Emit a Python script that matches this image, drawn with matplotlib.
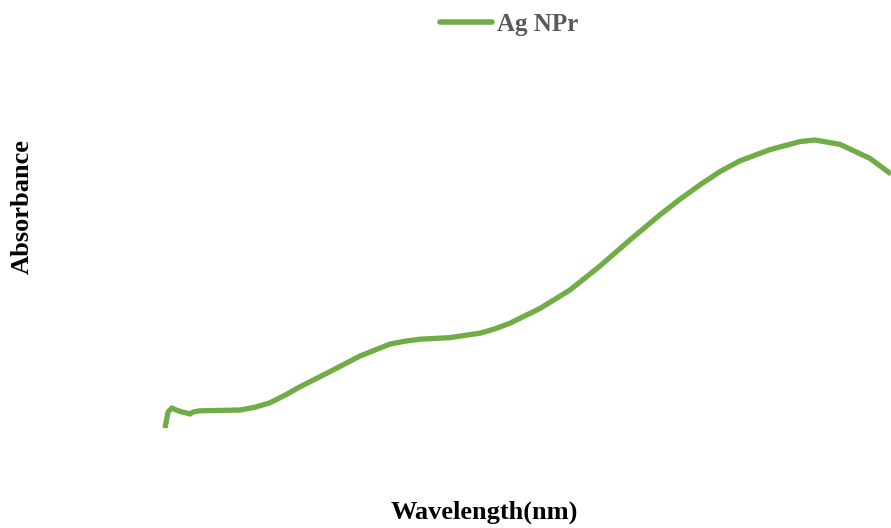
import matplotlib
matplotlib.use("Agg")
import matplotlib.pyplot as plt

# UV-Vis absorbance spectrum of silver nanoprisms
wavelength = [300.0, 302.1, 304.8, 307.6, 311.7, 314.5, 317.2, 319.3, 324.1, 337.9,
              351.7, 362.0, 372.3, 382.6, 393.0, 413.6, 434.3, 455.0, 465.3, 475.6,
              496.3, 516.9, 527.3, 537.6, 558.3, 578.9, 599.6, 620.2, 640.9, 654.7,
              668.5, 682.2, 696.0, 716.7, 737.3, 747.7, 764.9, 785.5, 800.0]
absorbance = [0.130, 0.170, 0.180, 0.175, 0.170, 0.168, 0.165, 0.170, 0.173, 0.174,
              0.175, 0.182, 0.193, 0.212, 0.233, 0.271, 0.310, 0.340, 0.347, 0.352,
              0.356, 0.367, 0.378, 0.392, 0.429, 0.475, 0.535, 0.600, 0.663, 0.702,
              0.738, 0.771, 0.798, 0.826, 0.846, 0.850, 0.839, 0.804, 0.765]

W, H = 891, 528
fig = plt.figure(figsize=(W / 100, H / 100), dpi=100)
ax = fig.add_axes([165 / W, 48 / H, 1 - 165 / W, 400 / H])
ax.plot(wavelength, absorbance, color="#70AD47", lw=3.8,
        solid_capstyle="butt", solid_joinstyle="round", label="Ag NPr", clip_on=False)
ax.set_xlim(300, 800)
ax.set_ylim(0, 1)
ax.axis("off")

serif = ["Liberation Serif", "DejaVu Serif"]
leg = fig.legend(loc="center", bbox_to_anchor=(509 / W, 1 - 24 / H), frameon=False,
                 handlelength=2.1, handletextpad=0.18,
                 prop={"family": serif, "weight": "bold", "size": 18})
for t in leg.get_texts():
    t.set_color("#595959")
for h in leg.get_lines():
    h.set_solid_capstyle("round")
    h.set_linewidth(4.0)

fig.text(484 / W, 1 - 512 / H, "Wavelength(nm)", ha="center", va="center",
         family=serif, weight="bold", size=19)
fig.text(22 / W, 1 - 207 / H, "Absorbance", ha="center", va="center", rotation=90,
         family=serif, weight="bold", size=19)

fig.savefig("out.png", dpi=100)
